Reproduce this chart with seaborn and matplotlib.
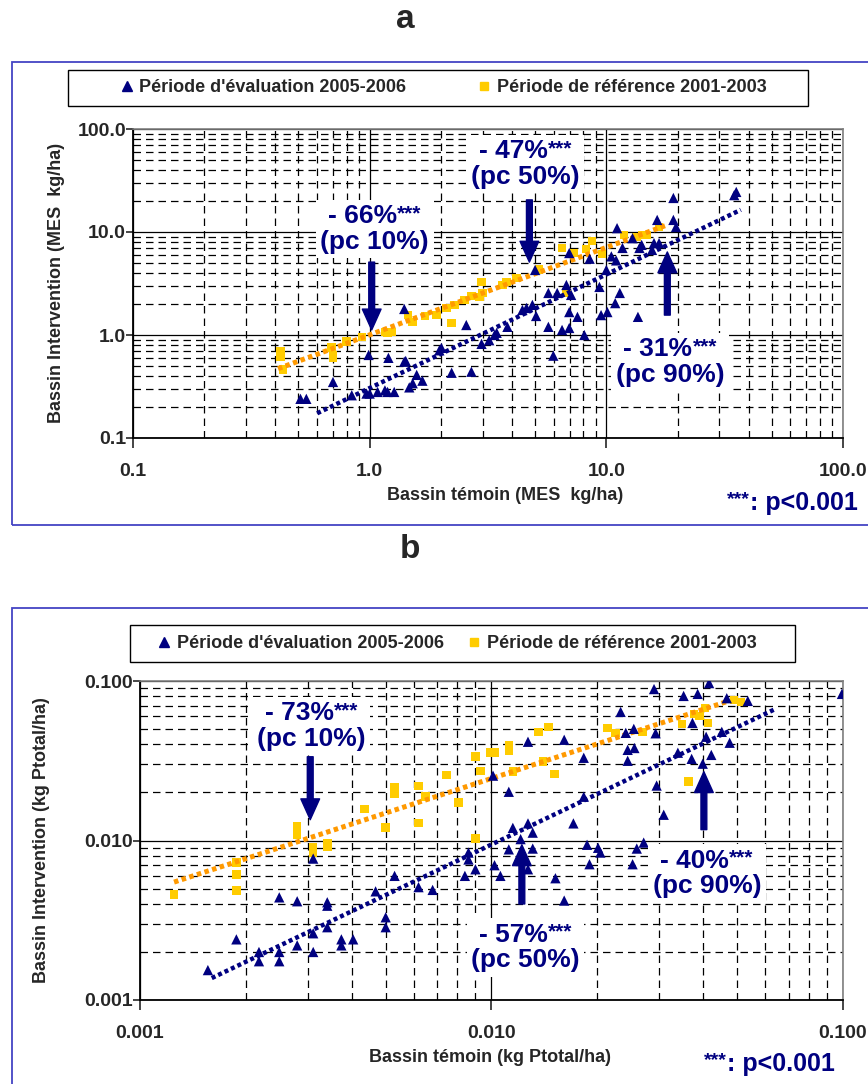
import numpy as np
import pandas as pd
import seaborn as sns
import matplotlib.pyplot as plt
from matplotlib.patches import Rectangle
from matplotlib.lines import Line2D
from matplotlib.offsetbox import TextArea, HPacker, VPacker, AnnotationBbox
from matplotlib.ticker import LogLocator, FixedLocator, NullFormatter

sns.set_theme(style="white")
plt.rcParams["font.family"] = ["Liberation Sans", "DejaVu Sans"]
plt.rcParams["font.weight"] = "bold"

# ---- panel a : MES (kg/ha) ----
a_eval_x = [0.51, 0.54, 0.70, 0.84, 0.97, 1.0, 0.99, 1.08, 1.16, 1.19,
            1.27, 1.2, 1.40, 1.42, 1.40, 1.47, 1.52, 1.58, 1.67, 1.97,
            2.01, 2.22, 2.56, 2.69, 2.97, 3.2, 3.37, 3.44, 3.82, 4.42,
            4.6, 4.87, 5.05, 5.0, 5.69, 5.69, 5.97, 6.2, 6.5, 6.78,
            6.97, 6.97, 6.97, 7.1, 7.55, 8.07, 8.5, 9.35, 9.5, 10.0,
            10.1, 10.5, 10.9, 11.0, 11.1, 11.4, 11.7, 12.9, 13.6, 13.8,
            14.1, 15.6, 15.9, 16.4, 16.7, 19.2, 19.2, 19.7, 34.7, 35.4]
a_eval_y = [0.24, 0.24, 0.35, 0.26, 0.27, 0.27, 0.64, 0.28, 0.29, 0.28,
            0.28, 0.60, 0.55, 0.56, 1.79, 0.31, 0.34, 0.41, 0.36, 0.71,
            0.75, 0.43, 1.25, 0.44, 0.82, 0.89, 1.0, 1.05, 1.2, 1.75,
            1.83, 1.96, 1.53, 4.28, 1.2, 2.56, 0.63, 2.56, 1.12, 3.06,
            1.17, 1.67, 6.25, 2.45, 1.5, 1.0, 5.5, 2.93, 1.56, 4.28,
            1.67, 5.8, 2.04, 5.3, 10.9, 2.56, 7.0, 8.7, 1.5, 7.0,
            7.5, 6.7, 7.8, 13.1, 7.8, 21.4, 13.1, 11.2, 22.8, 24.5]
a_ref_x = [0.42, 0.42, 0.43, 0.69, 0.70, 0.70, 0.80, 0.93, 1.16, 1.19,
           1.24, 1.45, 1.52, 1.71, 1.92, 2.11, 2.22, 2.28, 2.52, 2.69,
           2.91, 2.97, 3.0, 3.64, 3.78, 4.17, 5.2, 6.5, 6.8, 7.3,
           8.2, 8.7, 9.6, 11.9, 13.4, 14.2, 14.8, 16.7]
a_ref_y = [0.70, 0.61, 0.46, 0.76, 0.64, 0.60, 0.86, 0.96, 1.07, 1.05,
           1.07, 1.56, 1.34, 1.53, 1.56, 1.83, 1.31, 1.96, 2.19, 2.39,
           2.34, 3.27, 2.56, 3.06, 3.27, 3.57, 4.3, 7.0, 2.6, 6.25,
           6.84, 8.2, 6.1, 9.35, 8.9, 9.35, 9.35, 11.2]
a_eval_fit = [0.6, 37]
a_ref_fit = [0.41, 17.9]
a_ticks = [0.1, 1, 10, 100]
a_ticklabels = ["0.1", "1.0", "10.0", "100.0"]
a_notes = [("66", "10"), ("47", "50"), ("31", "90")]

# ---- panel b : P total (kg/ha) ----
b_eval_x = [0.00156, 0.00188, 0.00218, 0.00218, 0.00249, 0.00249, 0.00249, 0.0028, 0.0028, 0.00311,
            0.00311, 0.00311, 0.00341, 0.00341, 0.00341, 0.00374, 0.00374, 0.00404, 0.00468, 0.0050,
            0.0050, 0.0053, 0.0062, 0.0068, 0.0084, 0.0086, 0.0086, 0.0090, 0.0101, 0.0112,
            0.0127, 0.0161, 0.0183, 0.0183, 0.0233, 0.029, 0.0241, 0.0254, 0.0244, 0.0255,
            0.0244, 0.0293, 0.0339, 0.0352, 0.0386, 0.0371, 0.0373, 0.0399, 0.0408, 0.0416,
            0.0422, 0.0452, 0.0467, 0.0476, 0.0536, 0.0993, 0.0295, 0.0309, 0.0171, 0.0115,
            0.0127, 0.0131, 0.0121, 0.0112, 0.0131, 0.0102, 0.0106, 0.0127, 0.0152, 0.0161,
            0.0187, 0.0201, 0.0204, 0.019, 0.0252, 0.0259, 0.0271]
b_eval_y = [0.00154, 0.0024, 0.0020, 0.00175, 0.0020, 0.00175, 0.0044, 0.0022, 0.00416, 0.0077,
            0.00262, 0.0020, 0.0041, 0.0039, 0.00286, 0.0024, 0.0022, 0.0024, 0.0048, 0.0033,
            0.00286, 0.006, 0.0051, 0.0049, 0.006, 0.0084, 0.0076, 0.0066, 0.0255, 0.0202,
            0.0416, 0.0428, 0.033, 0.0188, 0.064, 0.089, 0.0473, 0.0501, 0.037, 0.038,
            0.0316, 0.047, 0.0355, 0.0806, 0.083, 0.0325, 0.0546, 0.0303, 0.0447, 0.097,
            0.0344, 0.048, 0.078, 0.041, 0.075, 0.083, 0.0221, 0.0145, 0.0128, 0.0120,
            0.0128, 0.0112, 0.0102, 0.0088, 0.0089, 0.007, 0.006, 0.0066, 0.0058, 0.0042,
            0.0094, 0.009, 0.0084, 0.0071, 0.0071, 0.0089, 0.0097]
b_ref_x = [0.00125, 0.00188, 0.00188, 0.00188, 0.0028, 0.0028, 0.00311, 0.00311, 0.00341, 0.00341,
           0.00435, 0.0050, 0.0053, 0.0053, 0.0062, 0.0062, 0.0065, 0.00745, 0.00805, 0.0090,
           0.0093, 0.0099, 0.0102, 0.0112, 0.0112, 0.0115, 0.0136, 0.014, 0.0145, 0.0151,
           0.0090, 0.0214, 0.0225, 0.0269, 0.0348, 0.0364, 0.0377, 0.039, 0.0405, 0.0413,
           0.0489, 0.0512]
b_ref_y = [0.00459, 0.00728, 0.00612, 0.00486, 0.01223, 0.0108, 0.00904, 0.0084, 0.0096, 0.0091,
           0.0158, 0.0121, 0.0217, 0.0197, 0.022, 0.0129, 0.0188, 0.0258, 0.0173, 0.0335,
           0.0273, 0.0355, 0.0355, 0.0393, 0.0365, 0.027, 0.048, 0.0312, 0.0516, 0.0262,
           0.0103, 0.0508, 0.0473, 0.048, 0.0538, 0.0234, 0.0622, 0.0605, 0.0678, 0.0546,
           0.076, 0.074]
b_eval_fit = [0.0016, 0.0635]
b_ref_fit = [0.00125, 0.047]
b_ticks = [0.001, 0.01, 0.1]
b_ticklabels = ["0.001", "0.010", "0.100"]
b_notes = [("73", "10"), ("57", "50"), ("40", "90")]

labels = ["Période d'évaluation 2005-2006", "Période de référence 2001-2003"]

NAVY = "#000080"
GOLD = "#FFCC00"
ORANGE = "#FF9900"
FRAME = "#4444c4"
W, H = 868, 1084


def frac(x, y):
    return x / W, 1 - y / H


def rect(x0, y0, x1, y1):
    return [x0 / W, 1 - y1 / H, (x1 - x0) / W, (y1 - y0) / H]


def note(ax, xy, pct, pc):
    top = HPacker(children=[
        TextArea(f"- {pct}%", textprops=dict(color=NAVY, fontsize=19, fontweight="bold")),
        TextArea("***", textprops=dict(color=NAVY, fontsize=15, fontweight="bold")),
    ], align="top", pad=0, sep=0)
    box = VPacker(children=[
        top,
        TextArea(f"(pc {pc}%)", textprops=dict(color=NAVY, fontsize=19, fontweight="bold")),
    ], align="center", pad=0, sep=1)
    ab = AnnotationBbox(box, xy, xycoords="data", frameon=True, pad=0.3,
                        bboxprops=dict(fc="white", ec="none"), zorder=6)
    ax.add_artist(ab)


def arrow(ax, tail, tip):
    ax.annotate("", xy=tip, xytext=tail, zorder=7,
                arrowprops=dict(arrowstyle="simple,head_length=1.5,head_width=1.35,tail_width=0.42",
                                fc=NAVY, ec=NAVY, mutation_scale=10, shrinkA=0, shrinkB=0))


def pvalue(fig, x, y):
    box = HPacker(children=[
        TextArea("***", textprops=dict(color=NAVY, fontsize=14, fontweight="bold")),
        TextArea(": p<0.001", textprops=dict(color=NAVY, fontsize=18, fontweight="bold")),
    ], align="top", pad=0, sep=0)
    ab = AnnotationBbox(box, frac(x, y), xycoords="figure fraction", frameon=False,
                        box_alignment=(1, 0.5))
    fig.add_artist(ab)


def panel(fig, axrect, ex, ey, rx, ry, efit, rfit, ticks, ticklabels):
    ax = fig.add_axes(axrect)
    ev = pd.DataFrame({"x": ex, "y": ey})
    rf = pd.DataFrame({"x": rx, "y": ry})
    ax.set_xscale("log")
    ax.set_yscale("log")
    ax.set_xlim(ticks[0], ticks[-1])
    ax.set_ylim(ticks[0], ticks[-1])

    # power trend lines (linear fit in log-log)
    for df, rng, col, lw in [(rf, rfit, ORANGE, 3.6), (ev, efit, NAVY, 3.2)]:
        k, b = np.polyfit(np.log10(df["x"]), np.log10(df["y"]), 1)
        xs = np.logspace(np.log10(rng[0]), np.log10(rng[1]), 50)
        ax.plot(xs, 10 ** (k * np.log10(xs) + b), color=col, lw=lw,
                ls=(0, (0.9, 0.7)), zorder=4)

    sns.scatterplot(data=rf, x="x", y="y", marker="s", s=38, color=GOLD,
                    edgecolor="none", ax=ax, zorder=3)
    sns.scatterplot(data=ev, x="x", y="y", marker="^", s=55, color=NAVY,
                    edgecolor="none", ax=ax, zorder=5)

    ax.xaxis.set_major_locator(FixedLocator(ticks))
    ax.yaxis.set_major_locator(FixedLocator(ticks))
    ax.set_xticklabels(ticklabels)
    ax.set_yticklabels(ticklabels)
    for axis in (ax.xaxis, ax.yaxis):
        axis.set_minor_locator(LogLocator(base=10, subs=np.arange(2, 10)))
        axis.set_minor_formatter(NullFormatter())
    ax.set_axisbelow(True)
    ax.grid(which="major", color="black", lw=0.9, ls="-")
    ax.grid(which="minor", color="black", lw=0.9, ls=(0, (6, 4)))
    ax.tick_params(which="minor", length=0)
    ax.tick_params(axis="y", which="major", length=5, width=1.2, pad=0, labelsize=14, direction="out", left=True)
    ax.tick_params(axis="x", which="major", length=7, width=1.2, pad=11, labelsize=14, direction="out", bottom=True)
    for s in ["left", "bottom"]:
        ax.spines[s].set_color("black")
        ax.spines[s].set_linewidth(1.3)
    for s in ["top", "right"]:
        ax.spines[s].set_color("#808080")
        ax.spines[s].set_linewidth(1.2)
    ax.set_xlabel("")
    ax.set_ylabel("")
    return ax


fig = plt.figure(figsize=(W / 100, H / 100), dpi=100)

# outer blue frames
fig.add_artist(Rectangle(frac(12, 525), (870 - 12) / W, (525 - 62) / H,
                         transform=fig.transFigure, fill=False, ec=FRAME, lw=1.3))
fig.add_artist(Rectangle(frac(12, 1090), (870 - 12) / W, (1090 - 608) / H,
                         transform=fig.transFigure, fill=False, ec=FRAME, lw=1.3))

fig.text(*frac(405, 20), "a", fontsize=24, fontweight="bold", ha="center", va="center")
fig.text(*frac(410, 549), "b", fontsize=24, fontweight="bold", ha="center", va="center")

handles = [Line2D([], [], marker="^", ls="none", color=NAVY, markersize=7),
           Line2D([], [], marker="s", ls="none", color=GOLD, markersize=6)]

# panel a
axa = panel(fig, rect(133, 129, 843, 438), a_eval_x, a_eval_y, a_ref_x, a_ref_y,
            a_eval_fit, a_ref_fit, a_ticks, a_ticklabels)
fig.add_artist(Rectangle(frac(68, 106), 740 / W, 36 / H, transform=fig.transFigure,
                         fill=False, ec="black", lw=1.0))
fig.legend(handles, labels, loc="center", bbox_to_anchor=frac(442, 88), ncol=2,
           frameon=False, columnspacing=3.8, handletextpad=0.2, handlelength=1.0,
           prop=dict(weight="bold", size=13))
fig.text(*frac(505, 495), "Bassin témoin (MES  kg/ha)", fontsize=13, fontweight="bold",
         ha="center", va="center")
fig.text(*frac(57, 283), "Bassin Intervention (MES  kg/ha)", fontsize=13, fontweight="bold",
         ha="center", va="center", rotation=90)
note(axa, (1.05, 10.7), *a_notes[0])
note(axa, (4.55, 45.7), *a_notes[1])
note(axa, (18.6, 0.547), *a_notes[2])
arrow(axa, (1.02, 5.1), (1.02, 1.12))
arrow(axa, (4.73, 20.5), (4.73, 5.1))
arrow(axa, (18.1, 1.56), (18.1, 6.4))
pvalue(fig, 858, 503)

# panel b
axb = panel(fig, rect(140, 681, 843, 1000), b_eval_x, b_eval_y, b_ref_x, b_ref_y,
            b_eval_fit, b_ref_fit, b_ticks, b_ticklabels)
fig.add_artist(Rectangle(frac(130, 662), 665 / W, 37 / H, transform=fig.transFigure,
                         fill=False, ec="black", lw=1.0))
fig.legend(handles, labels, loc="center", bbox_to_anchor=frac(456, 644), ncol=2,
           frameon=False, columnspacing=1.2, handletextpad=0.2, handlelength=1.0,
           prop=dict(weight="bold", size=13))
fig.text(*frac(490, 1057), "Bassin témoin (kg Ptotal/ha)", fontsize=13, fontweight="bold",
         ha="center", va="center")
fig.text(*frac(42, 840), "Bassin Intervention (kg Ptotal/ha)", fontsize=13, fontweight="bold",
         ha="center", va="center", rotation=90)
note(axb, (0.00307, 0.0523), *b_notes[0])
note(axb, (0.0125, 0.00214), *b_notes[1])
note(axb, (0.041, 0.00622), *b_notes[2])
arrow(axb, (0.00305, 0.0335), (0.00305, 0.0135))
arrow(axb, (0.0122, 0.004), (0.0122, 0.0094))
arrow(axb, (0.0402, 0.0117), (0.0402, 0.027))
pvalue(fig, 835, 1064)

fig.savefig("out.png", dpi=100)
